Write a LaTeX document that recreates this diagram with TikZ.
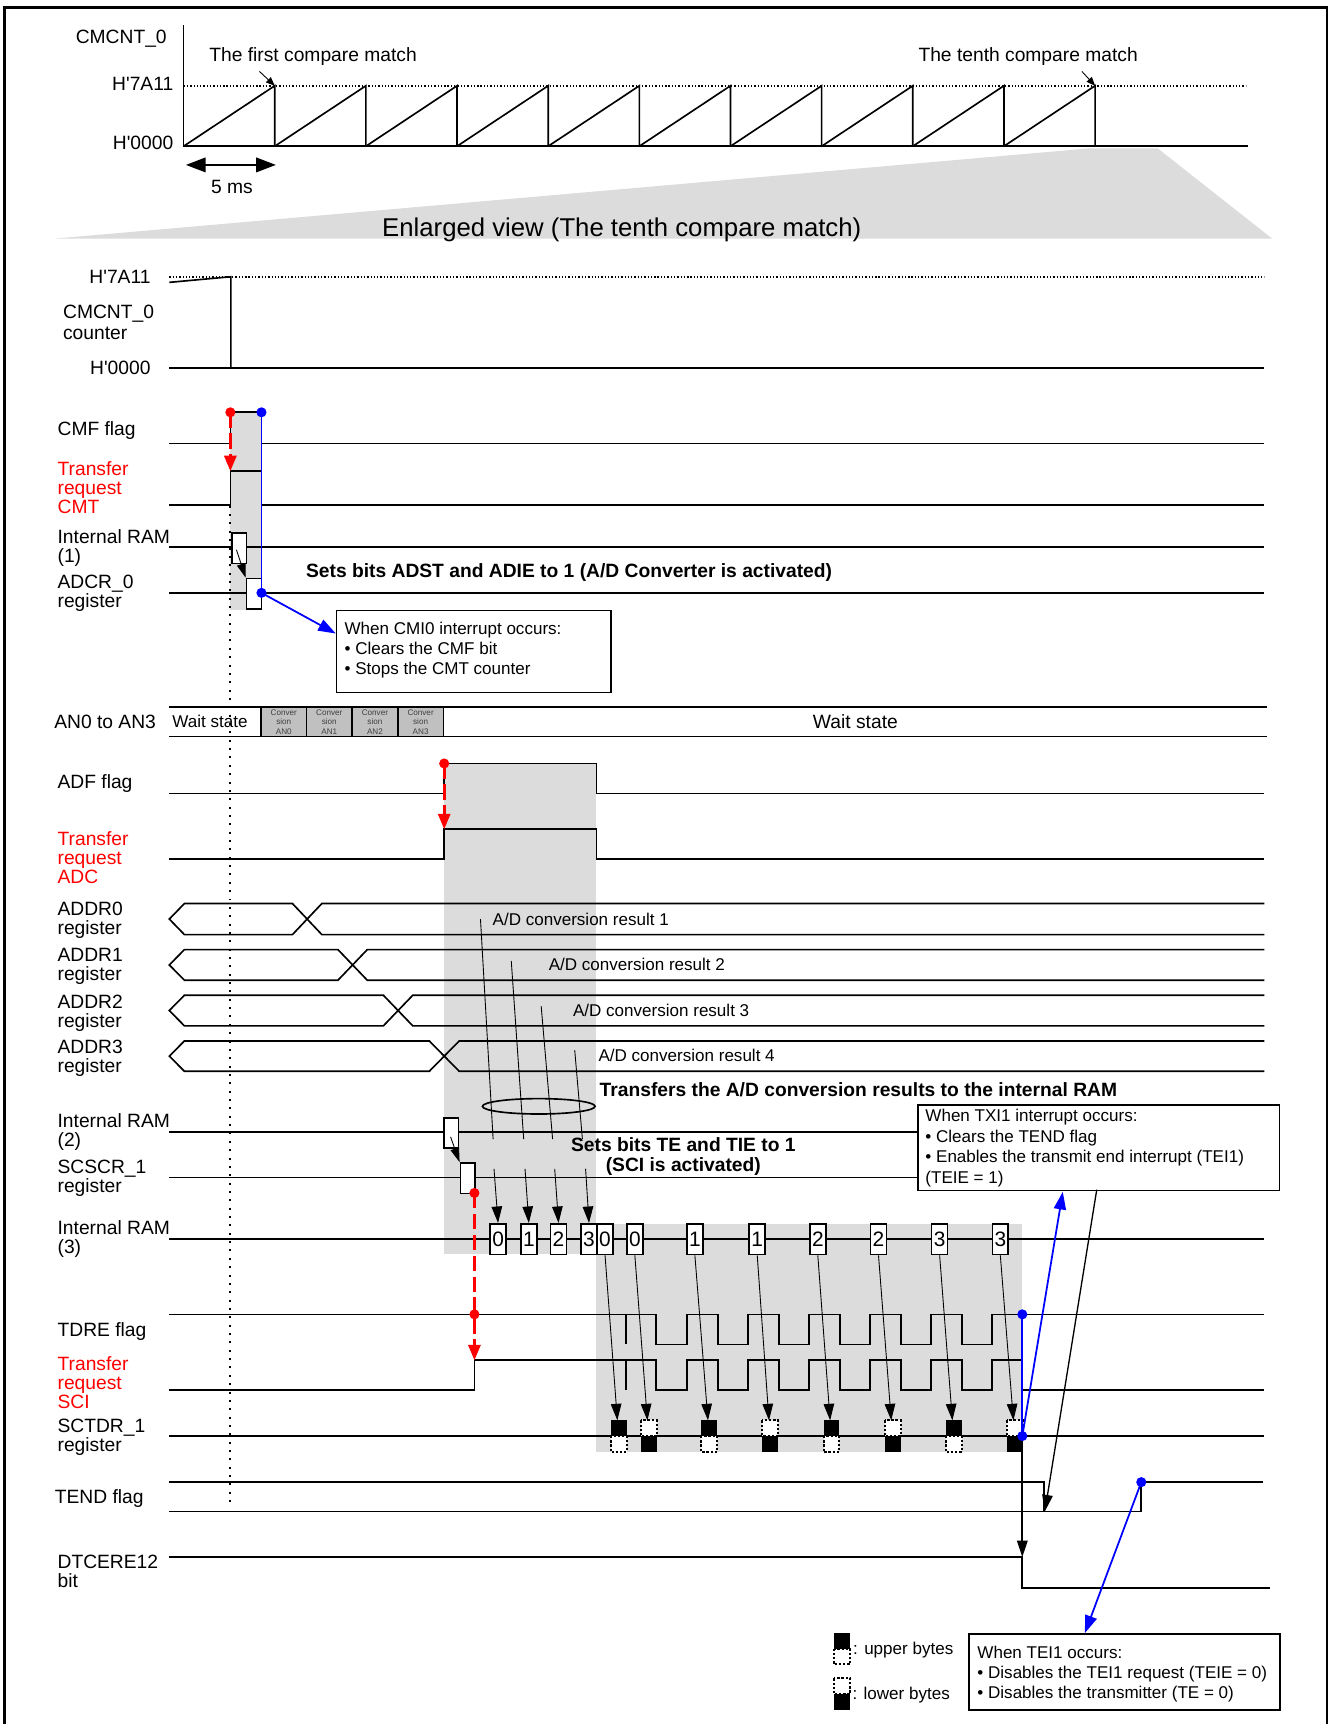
\documentclass[tikz,border=0pt]{standalone}
\usepackage{fontspec}
\setmainfont{Liberation Sans}
\usetikzlibrary{arrows.meta}
\definecolor{shadegray}{RGB}{220,220,220}
\definecolor{cellgray}{RGB}{192,192,192}
\newcommand\busrow[4]{\draw[sig] (1150,#1) -- (#4,#1) -- (#3,#2) -- (167.7,#2) -- (154,{(#1+#2)/2}) -- (167.7,#1) -- (#3,#1) -- (#4,#2) -- (1150,#2);}
\newcommand\hq{\textquotesingle}
\begin{document}
\begin{tikzpicture}[x=0.5pt,y=-0.5pt,
  lbl/.style={anchor=base west,inner sep=0pt,align=left,font=\fontsize{8.75}{8.6}\selectfont},
  lblr/.style={anchor=base east,inner sep=0pt,font=\fontsize{8.75}{8.6}\selectfont},
  redlbl/.style={lbl,text=red},
  sig/.style={line width=0.75pt,line join=miter},
  fine/.style={line width=0.4pt},
  note/.style={anchor=base west,inner sep=0pt,align=left,font=\fontsize{7.75}{9.1}\selectfont},
  smalltxt/.style={anchor=base west,inner sep=0pt,font=\fontsize{7.75}{9}\selectfont},
  boldt/.style={anchor=base west,inner sep=0pt,font=\bfseries\fontsize{8.75}{9}\selectfont},
  frame/.style={draw,line width=0.75pt,fill=white,inner sep=0pt,anchor=north west},
  regbox/.style={draw,line width=0.75pt,fill=white,inner sep=0pt,anchor=north west,minimum width=6.75pt,minimum height=13.8pt},
  dotbox/.style={draw,fill=white,line width=0.9pt,dash pattern=on 1.1pt off 0.8pt},
  arr/.style={-{Triangle[length=7.5pt,width=4.8pt]}},
  redarr/.style={red,line width=1.2pt,dash pattern=on 7pt off 2.5pt,-{Triangle[length=7pt,width=5.5pt]}},
  bluearr/.style={blue,line width=0.8pt,-{Triangle[length=8pt,width=5.5pt]}},
  dotv/.style={line width=1pt,dash pattern=on 0.9pt off 2.9pt},
  dotsh/.style={line width=0.8pt,dash pattern=on 0.6pt off 0.9pt}
]
\useasboundingbox (0,0) rectangle (1210,1568);
% ---------- background fills ----------
\fill[shadegray] (50,217) -- (990,135) -- (1053,135) -- (1157,217) -- cycle;
\fill[shadegray] (209.5,375) rectangle (237.8,555);
\fill[shadegray] (404,694.4) rectangle (542.5,1140.2);
\fill[shadegray] (542.5,1113) rectangle (929.8,1320.6);
% ---------- frame ----------
\draw[line width=1.1pt] (4,1590) -- (4,7) -- (1207,7) -- (1207,1590);
% ---------- top chart ----------
\draw[sig] (167,23) -- (167,133) -- (1135,133);
\draw[dotsh] (167,78) -- (1133,78);
\foreach \i in {0,...,9} \draw[sig] ({167+82.9*\i},133) -- ({167+82.9*(\i+1)},78) -- ({167+82.9*(\i+1)},133);
\node[lblr] (tcm) at (152,40) {CMCNT\_0};
\node[lblr] (thi) at (158,82) {H\hq 7A11};
\node[lblr] (tlo) at (158,136.3) {H\hq 0000};
\node[lbl] (first) at (190,56) {The first compare match};
\node[lbl] (tenth) at (835,56) {The tenth compare match};
\coordinate (m1top) at (249.9,78);
\coordinate (m10top) at (996,78);
\draw[fine,-{Triangle[length=4pt,width=3.2pt]}] (236,65) -- (m1top);
\draw[fine,-{Triangle[length=4pt,width=3.2pt]}] (984,65) -- (m10top);
\coordinate (ms0) at (169,150);
\coordinate (ms1) at (251,150);
\draw[line width=1.2pt,{Triangle[length=9pt,width=6.5pt]}-{Triangle[length=9pt,width=6.5pt]}] (ms0) -- (ms1);
\node[anchor=base,inner sep=0pt,font=\fontsize{8.75}{9}\selectfont] (ms) at (211,176) {5 ms};
\node[anchor=base,inner sep=0pt,font=\fontsize{11.7}{12}\selectfont] (title) at (565.5,215) {Enlarged view (The tenth compare match)};
% ---------- enlarged counter ----------
\draw[dotsh] (154,251.7) -- (1150,251.7);
\draw[sig] (154,256.8) -- (210,251.7) -- (210,334.5);
\draw[sig] (154,334.5) -- (1150,334.5);
\node[lblr] (ehi) at (137.3,258) {H\hq 7A11};
\node[lbl] (ecnt) at (57,308.8) {CMCNT\_0\\[0.9pt]counter};
\node[lblr] (elo) at (137.3,340.8) {H\hq 0000};
% dotted time marker
\draw[dotv] (209.5,460) -- (209.5,1371);
% ---------- CMF / CMT ----------
\node[lbl] (lcmf) at (52,396.3) {CMF flag};
\draw[sig] (154,403.3) -- (209.5,403.3) -- (209.5,375) -- (237.8,375) -- (237.8,403.3) -- (1150,403.3);
\node[redlbl] (lcmt) at (52,466.6) {Transfer\\request\\CMT};
\draw[sig] (154,459.4) -- (209.5,459.4) -- (209.5,428.5) -- (237.8,428.5) -- (237.8,459.4) -- (1150,459.4);
\node[lbl] (lram1) at (52,511.5) {Internal RAM\\(1)};
\draw[sig] (154,497.6) -- (1150,497.6);
\node[lbl] (ladcr) at (52,552.5) {ADCR\_0\\register};
\draw[sig] (154,539.2) -- (1150,539.2);
\node[regbox] (r1) at (210,484.3) {};
\node[regbox] (adcr) at (223.5,525.5) {};
\draw[fine,-{Triangle[length=6.5pt,width=4pt]}] (215,500) -- (adcr.north west);
\draw[blue,line width=0.8pt] (237.8,375) -- (237.8,539.2);
\fill[blue] (237.8,375) circle (2.3pt);
\fill[blue] (237.8,539.2) circle (2.3pt);
\fill[red] (209.5,375) circle (2.3pt);
\draw[redarr] (209.5,375) -- (209.5,428.5);
\node[boldt] (adst) at (278,525.3) {Sets bits ADST and ADIE to 1 (A/D Converter is activated)};
\node[frame,minimum width=124.7pt,minimum height=37.3pt] (cmi) at (305.4,554.4) {};
\coordinate (cmitip) at (305.4,576.2);
\draw[bluearr] (237.8,539.2) -- (cmitip);
\node[note] (cmitext) at (313,613.7) {When CMI0 interrupt occurs:\\• Clears the CMF bit\\• Stops the CMT counter};
% ---------- AN row ----------
\node[lbl] (lan) at (49,662.3) {AN0 to AN3};
\draw[sig] (154,643) -- (1152,643);
\draw[sig] (154,670) -- (1152,670);
\foreach \a/\b/\n in {237.5/278.7/0, 278.7/320.2/1, 320.2/361.8/2, 361.8/403.3/3} {
  \draw[fill=cellgray,line width=0.75pt] (\a,643) rectangle (\b,670);
  \node[align=center,inner sep=0pt,font=\fontsize{3.7}{4.15}\selectfont,text=black!75] (cell\n) at ({(\a+\b)/2},656.8) {Conver\\sion\\AN\n};
}
\node[anchor=base,inner sep=0pt,font=\fontsize{7.75}{9}\selectfont] (ws1) at (191,661.5) {Wait state};
\node[anchor=base,inner sep=0pt,font=\fontsize{8.75}{9}\selectfont] (ws2) at (778,662.3) {Wait state};
% ---------- ADF / ADC ----------
\node[lbl] (ladf) at (52,717.4) {ADF flag};
\draw[sig] (154,721.7) -- (404,721.7) -- (404,694.4) -- (542.5,694.4) -- (542.5,721.7) -- (1150,721.7);
\node[redlbl] (ladc) at (52,803.4) {Transfer\\request\\ADC};
\draw[sig] (154,781.2) -- (404,781.2) -- (404,754.2) -- (542.5,754.2) -- (542.5,781.2) -- (1150,781.2);
\fill[red] (404,694.4) circle (2.3pt);
\draw[redarr] (404,694.4) -- (404,754.2);
% ---------- ADDR buses ----------
\node[lbl] (la0) at (52,849.5) {ADDR0\\register};
\node[lbl] (la1) at (52,892.1) {ADDR1\\register};
\node[lbl] (la2) at (52,934.5) {ADDR2\\register};
\node[lbl] (la3) at (52,975.6) {ADDR3\\register};
\busrow{821.8}{850}{266}{292.7}
\busrow{863.7}{891.5}{307.4}{334}
\busrow{905.2}{933}{348.7}{375.4}
\busrow{946.8}{974.3}{390.5}{417.6}
\node[smalltxt] (res1) at (447.7,841.5) {A/D conversion result 1};
\node[smalltxt] (res2) at (498.7,882.8) {A/D conversion result 2};
\node[smalltxt] (res3) at (520.8,924.4) {A/D conversion result 3};
\node[smalltxt] (res4) at (544,965.3) {A/D conversion result 4};
\draw[fine] (437,836) -- (448.5,1036);
\draw[fine] (465,874) -- (476.3,1036);
\draw[fine] (492.2,915) -- (502.6,1036);
\draw[fine] (522.7,955) -- (529.7,1036);
\draw[line width=0.75pt] (490,1006.2) ellipse [x radius=25.6pt, y radius=3.5pt];
\node[boldt] (xfer) at (545,997.3) {Transfers the A/D conversion results to the internal RAM};
% ---------- RAM(2) / SCSCR ----------
\node[lbl] (lram2) at (52,1043) {Internal RAM\\(2)};
\draw[sig] (154,1029.5) -- (834.2,1029.5);
\node[lbl] (lscr) at (52,1084.9) {SCSCR\_1\\register};
\draw[sig] (154,1071) -- (834.2,1071);
\node[regbox] (r2) at (402.8,1016) {};
\node[regbox] (scscr) at (418,1057) {};
\draw[fine,-{Triangle[length=6.5pt,width=4pt]}] (409.8,1034) -- (scscr.north west);
\node[anchor=base,inner sep=0pt,align=center,font=\bfseries\fontsize{8.75}{9.1}\selectfont] (tetie) at (621.5,1065.8) {Sets bits TE and TIE to 1\\(SCI is activated)};
\node[frame,minimum width=164.3pt,minimum height=38.8pt] (txi) at (834.2,1004.4) {};
\node[note,font=\fontsize{7.75}{9.4}\selectfont] (txitext) at (841.3,1076.3) {When TXI1 interrupt occurs:\\• Clears the TEND flag\\• Enables the transmit end interrupt (TEI1)\\(TEIE = 1)};
% ---------- RAM(3) ----------
\node[lbl] (lram3) at (52,1140.1) {Internal RAM\\(3)};
\draw[sig] (154,1126.6) -- (1150,1126.6);
\foreach \x/\d [count=\k] in {445/0,473/1,500/2,527.7/3,542.3/0,569.4/0,624/1,680.7/1,735.8/2,791/2,846.6/3,901.8/3}
  \node[regbox,minimum width=7.25pt,minimum height=13.95pt,font=\fontsize{9.5}{9.5}\selectfont] (m\k) at (\x,1112.3) {\d};
\draw[fine,arr] (449.3,1063) -- (m1.north);
\draw[fine,arr] (477.5,1063) -- (m2.north);
\draw[fine,arr] (504.5,1063) -- (m3.north);
\draw[fine,arr] (532.6,1063) -- (m4.north);
% ---------- TDRE / SCI ----------
\node[lbl] (ltdre) at (52,1215.3) {TDRE flag};
\draw[sig] (154,1195.4) -- (596.4,1195.4) -- (596.4,1222.7) -- (624.7,1222.7) -- (624.7,1195.4) -- (653,1195.4) -- (653,1222.7) -- (680.2,1222.7) -- (680.2,1195.4) -- (708.5,1195.4) -- (708.5,1222.7) -- (735.8,1222.7) -- (735.8,1195.4) -- (764.1,1195.4) -- (764.1,1222.7) -- (791.4,1222.7) -- (791.4,1195.4) -- (819.7,1195.4) -- (819.7,1222.7) -- (847,1222.7) -- (847,1195.4) -- (875.2,1195.4) -- (875.2,1222.7) -- (902.5,1222.7) -- (902.5,1195.4) -- (1150,1195.4);
\draw[sig] (569.6,1195.4) -- (569.6,1222.7);
\node[redlbl] (lsci) at (52,1281) {Transfer\\request\\SCI};
\draw[sig] (154,1264.3) -- (431.5,1264.3) -- (431.5,1237.2) -- (596.4,1237.2) -- (596.4,1264.3) -- (624.7,1264.3) -- (624.7,1237.2) -- (653,1237.2) -- (653,1264.3) -- (680.2,1264.3) -- (680.2,1237.2) -- (708.5,1237.2) -- (708.5,1264.3) -- (735.8,1264.3) -- (735.8,1237.2) -- (764.1,1237.2) -- (764.1,1264.3) -- (791.4,1264.3) -- (791.4,1237.2) -- (819.7,1237.2) -- (819.7,1264.3) -- (847,1264.3) -- (847,1237.2) -- (875.2,1237.2) -- (875.2,1264.3) -- (902.5,1264.3) -- (902.5,1237.2) -- (929.8,1237.2) -- (929.8,1264.3) -- (1150,1264.3);
\draw[sig] (569.6,1237.2) -- (569.6,1264.3);
\fill[red] (431.5,1085) circle (2.3pt);
\draw[redarr] (431.5,1085) -- (431.5,1237.2);
\fill[red] (431.5,1195.4) circle (2.3pt);
% ---------- SCTDR ----------
\node[lbl] (lsctdr) at (52,1319.9) {SCTDR\_1\\register};
\draw[sig] (154,1306.1) -- (1150,1306.1);
\foreach \l/\u [count=\k] in {555.5/1,582.8/0,637.9/1,693.4/0,749/1,804.6/0,860.2/1,915.7/0} {
  \ifnum\u=1
    \fill (\l,1291.8) rectangle ({\l+14.5},1306.1);
    \draw[dotbox] (\l,1306.1) rectangle ({\l+14.5},1320.6);
  \else
    \draw[dotbox] (\l,1291.8) rectangle ({\l+14.5},1306.1);
    \fill (\l,1306.1) rectangle ({\l+14.5},1320.6);
  \fi
  \coordinate (t\k) at ({\l+6},1291.8);
}
\foreach \k [evaluate=\k as \j using int(\k+4)] in {1,...,8}
  \draw[fine,arr] (m\j.south) -- (t\k);
% blue TXI
\draw[blue,line width=0.8pt] (929.8,1195.4) -- (929.8,1306.1);
\fill[blue] (929.8,1195.4) circle (2.3pt);
\fill[blue] (929.8,1306.1) circle (2.3pt);
\coordinate (txitip) at (966.6,1084);
\draw[bluearr] (929.8,1306.1) -- (txitip);
% ---------- TEND / DTCERE ----------
\node[lbl] (ltend) at (49.5,1367) {TEND flag};
\draw[sig] (154,1348) -- (949.5,1348) -- (949.5,1374.6);
\draw[sig] (154,1374.6) -- (1038,1374.6) -- (1038,1348) -- (1148.8,1348);
\coordinate (tendtip) at (950.3,1374.6);
\draw[line width=0.6pt,arr] (997.5,1082) -- (tendtip);
\node[lbl] (ldtc) at (52,1444.2) {DTCERE12\\bit};
\draw[sig] (154,1416.2) -- (929.8,1416.2) -- (929.8,1444) -- (1154.8,1444);
\draw[line width=0.75pt,arr] (929.8,1320.6) -- (929.8,1416.2);
\fill[blue] (1038,1348) circle (2.3pt);
\node[frame,minimum width=141.35pt,minimum height=34.6pt] (tei) at (880.7,1485.3) {};
\coordinate (teitip) at (986.7,1485.3);
\draw[bluearr] (1038,1348) -- (teitip);
\node[note,font=\fontsize{7.75}{9.25}\selectfont] (teitext) at (888.6,1545.1) {When TEI1 occurs:\\• Disables the TEI1 request (TEIE = 0)\\• Disables the transmitter (TE = 0)};
% ---------- legend ----------
\fill (758.2,1485.3) rectangle (773.3,1499.5);
\draw[dotbox] (758.2,1499.5) rectangle (773.3,1513.8);
\node[smalltxt] (lup) at (775.6,1504.5) {: upper bytes};
\draw[dotbox] (758.2,1526.5) rectangle (773.3,1540.7);
\fill (758.2,1540.7) rectangle (773.3,1555);
\node[smalltxt] (llo) at (775,1546) {: lower bytes};
\end{tikzpicture}
\end{document}
